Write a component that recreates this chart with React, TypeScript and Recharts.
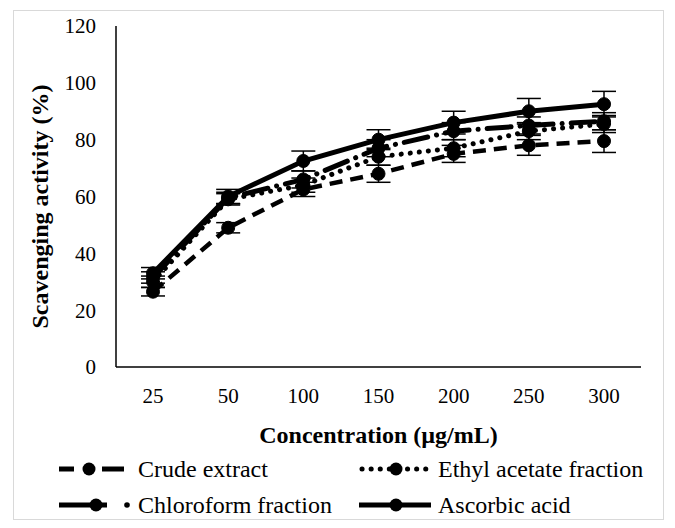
import React from "react";
import {
  ErrorBar,
  Label,
  Line,
  LineChart,
  XAxis,
  YAxis,
} from "recharts";

const concentrations = ["25", "50", "100", "150", "200", "250", "300"];
const crude = [26.5, 49, 62.5, 68, 75, 78, 79.5];
const crudeErr = [1.5, 1.8, 2.5, 3, 3, 3.5, 4];
const ethyl = [30, 59, 64, 74, 77, 83, 85.5];
const ethylErr = [2, 2, 2.5, 3, 3, 3, 3];
const chloro = [31.5, 59.5, 66, 77, 83, 85, 86.5];
const chloroErr = [2, 2, 3, 3, 3, 3, 3];
const ascorbic = [33, 60, 72.5, 80, 86, 90, 92.5];
const ascorbicErr = [2, 2.5, 3.5, 3.5, 4, 4.5, 4.5];
const yTicks = [0, 20, 40, 60, 80, 100, 120];

const data = concentrations.map((c, i) => ({
  conc: c,
  crude: crude[i],
  crudeErr: crudeErr[i],
  ethyl: ethyl[i],
  ethylErr: ethylErr[i],
  chloro: chloro[i],
  chloroErr: chloroErr[i],
  ascorbic: ascorbic[i],
  ascorbicErr: ascorbicErr[i],
}));

const font = "Times New Roman, Liberation Serif, DejaVu Serif, serif";

const series = [
  { key: "crude", name: "Crude extract", dash: "13 8", cap: "butt" as const, width: 4.5 },
  { key: "ethyl", name: "Ethyl acetate fraction", dash: "0.1 9", cap: "round" as const, width: 5 },
  { key: "chloro", name: "Chloroform fraction", dash: "24 9 0.1 9", cap: "round" as const, width: 5 },
  { key: "ascorbic", name: "Ascorbic acid", dash: undefined, cap: "butt" as const, width: 5 },
];

function LegendIcon({ kind }: { kind: string }) {
  return (
    <svg width={74} height={20} style={{ display: "block" }}>
      {kind === "crude" && (
        <>
          <line x1={0} y1={10} x2={15} y2={10} stroke="#000" strokeWidth={5} />
          <line x1={43} y1={10} x2={65} y2={10} stroke="#000" strokeWidth={5} />
        </>
      )}
      {kind === "ethyl" && (
        <line x1={3} y1={10} x2={70} y2={10} stroke="#000" strokeWidth={5} strokeDasharray="0.1 9" strokeLinecap="round" />
      )}
      {kind === "chloro" && (
        <>
          <line x1={0} y1={10} x2={48} y2={10} stroke="#000" strokeWidth={5} />
          <circle cx={68} cy={10} r={2.8} fill="#000" />
        </>
      )}
      {kind === "ascorbic" && <line x1={0} y1={10} x2={72} y2={10} stroke="#000" strokeWidth={5} />}
      <circle cx={kind === "crude" ? 30 : 37} cy={10} r={6.5} fill="#000" />
    </svg>
  );
}

function YTitle(props: any) {
  const vb = props.viewBox;
  const cx = 40;
  const cy = vb.y + vb.height / 2 + 10;
  return (
    <text
      x={cx}
      y={cy}
      transform={`rotate(-90, ${cx}, ${cy})`}
      textAnchor="middle"
      dominantBaseline="central"
      fill="#000"
      fontSize={24}
      fontWeight="bold"
      fontFamily={font}
    >
      Scavenging activity (%)
    </text>
  );
}

export default function App() {
  return (
    <div style={{ position: "absolute", left: 0, top: 0, width: 675, height: 528, background: "#fff", fontFamily: font }}>
      <div style={{ position: "absolute", left: 13, top: 10, width: 649, height: 508, border: "1px solid #d9d9d9" }} />
      <LineChart
        width={675}
        height={528}
        data={data}
        margin={{ top: 26, right: 34, bottom: 81, left: 46 }}
        style={{ position: "absolute", left: 0, top: 0, fontFamily: font }}
      >
        <XAxis
          dataKey="conc"
          padding={{ left: 37, right: 37 }}
          axisLine={{ stroke: "#000", strokeWidth: 1.5 }}
          tickLine={false}
          tickSize={6}
          tickMargin={15}
          tick={{ fill: "#000", fontSize: 21, fontFamily: font }}
          height={80}
        >
          <Label
            value="Concentration (µg/mL)"
            position="insideBottom"
            offset={4}
            style={{ fill: "#000", fontSize: 24, fontWeight: "bold", fontFamily: font }}
          />
        </XAxis>
        <YAxis
          domain={[0, 120]}
          ticks={yTicks}
          width={70}
          axisLine={{ stroke: "#000", strokeWidth: 1.5 }}
          tickLine={false}
          tickSize={6}
          tickMargin={14}
          tick={{ fill: "#000", fontSize: 21, fontFamily: font }}
        >
          <Label content={YTitle} />
        </YAxis>
        {series.map((s) => (
          <Line
            key={s.key}
            dataKey={s.key}
            name={s.name}
            stroke="#000"
            strokeWidth={s.width}
            strokeDasharray={s.dash}
            strokeLinecap={s.cap}
            dot={{ r: 6.5, fill: "#000", stroke: "#000", strokeWidth: 1, strokeDasharray: "" }}
            isAnimationActive={false}
          >
            <ErrorBar dataKey={`${s.key}Err`} direction="y" width={12} stroke="#000" strokeWidth={1.5} />
          </Line>
        ))}
      </LineChart>
      <div style={{ position: "absolute", left: 59, top: 455, width: 600, fontSize: 24, lineHeight: "28px", color: "#000" }}>
        {series.map((s, i) => (
          <div
            key={s.key}
            style={{
              position: "absolute",
              left: i % 2 === 0 ? 0 : 300,
              top: i < 2 ? 0 : 36,
              whiteSpace: "nowrap",
              display: "flex",
              alignItems: "center",
              gap: 5,
            }}
          >
            <LegendIcon kind={s.key} />
            <span>{s.name}</span>
          </div>
        ))}
      </div>
    </div>
  );
}
